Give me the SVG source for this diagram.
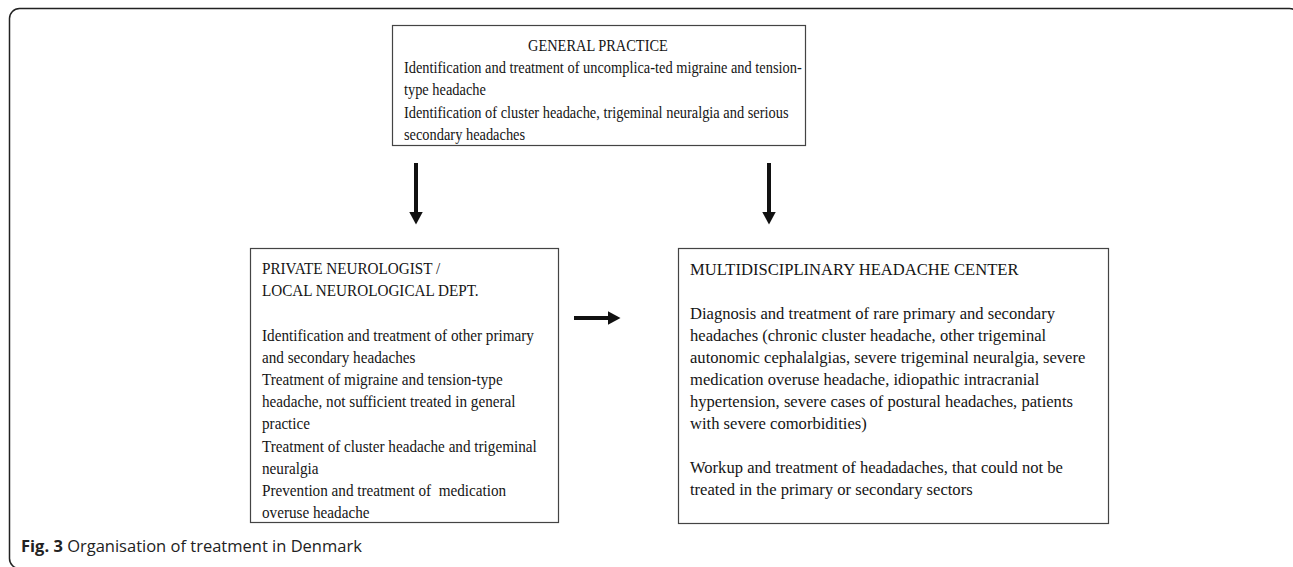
<svg xmlns="http://www.w3.org/2000/svg" width="1293" height="567" viewBox="0 0 1293 567">
<style>
.box{fill:#fff;stroke:#444;stroke-width:1.2}
.t{font-family:"Liberation Serif","Times New Roman",serif;font-size:17px;fill:#151515}
.cap{font-family:"Open Sans","Liberation Sans",sans-serif;font-size:16.5px;fill:#222}
.conn{stroke:#111;stroke-width:4;fill:none}
</style>
<defs>
<marker id="ah" markerUnits="userSpaceOnUse" markerWidth="14" markerHeight="14" refX="0.5" refY="7" orient="auto">
<path d="M0,0 L13,7 L0,14 Z" fill="#111"/>
</marker>
</defs>
<rect x="9.5" y="8.5" width="1290" height="560" rx="10" fill="none" stroke="#222" stroke-width="1.5"/>
<g id="general-practice">
<rect class="box" x="392.5" y="25.5" width="413" height="120"/>
<g transform="matrix(0.847 0 0 1 61.8 0)">
<text class="t" x="633" y="51" text-anchor="middle">GENERAL PRACTICE</text>
<text class="t" x="404" y="73">Identification and treatment of uncomplica-ted migraine and tension-</text>
<text class="t" x="404" y="95.3">type headache</text>
<text class="t" x="404" y="117.6">Identification of cluster headache, trigeminal neuralgia and serious</text>
<text class="t" x="404" y="139.9">secondary headaches</text>
</g>
</g>
<g id="private-neurologist">
<rect class="box" x="250.5" y="248.5" width="308" height="274"/>
<g transform="matrix(0.894 0 0 1 27.77 0)">
<text class="t" x="262" y="274">PRIVATE NEUROLOGIST /</text>
<text class="t" x="262" y="296.2">LOCAL NEUROLOGICAL DEPT.</text>
<text class="t" x="262" y="340.6">Identification and treatment of other primary</text>
<text class="t" x="262" y="362.8">and secondary headaches</text>
<text class="t" x="262" y="385">Treatment of migraine and tension-type</text>
<text class="t" x="262" y="407.2">headache, not sufficient treated in general</text>
<text class="t" x="262" y="429.4">practice</text>
<text class="t" x="262" y="451.6">Treatment of cluster headache and trigeminal</text>
<text class="t" x="262" y="473.8">neuralgia</text>
<text class="t" x="262" y="496" xml:space="preserve">Prevention and treatment of  medication</text>
<text class="t" x="262" y="518.2">overuse headache</text>
</g>
</g>
<g id="headache-center">
<rect class="box" x="678.5" y="248.5" width="430" height="275"/>
<g transform="matrix(0.976 0 0 1 16.56 0)">
<text class="t" x="690" y="275">MULTIDISCIPLINARY HEADACHE CENTER</text>
<text class="t" x="690" y="319">Diagnosis and treatment of rare primary and secondary</text>
<text class="t" x="690" y="341">headaches (chronic cluster headache, other trigeminal</text>
<text class="t" x="690" y="363">autonomic cephalalgias, severe trigeminal neuralgia, severe</text>
<text class="t" x="690" y="385">medication overuse headache, idiopathic intracranial</text>
<text class="t" x="690" y="407">hypertension, severe cases of postural headaches, patients</text>
<text class="t" x="690" y="429">with severe comorbidities)</text>
<text class="t" x="690" y="473">Workup and treatment of headadaches, that could not be</text>
<text class="t" x="690" y="495">treated in the primary or secondary sectors</text>
</g>
</g>
<g id="connectors">
<line class="conn" x1="416" y1="163" x2="416" y2="212" marker-end="url(#ah)"/>
<line class="conn" x1="769" y1="163" x2="769" y2="212" marker-end="url(#ah)"/>
<line class="conn" x1="574" y1="318" x2="608" y2="318" marker-end="url(#ah)"/>
</g>
<g id="caption">
<text class="cap" x="21" y="552"><tspan font-weight="bold">Fig. 3</tspan> Organisation of treatment in Denmark</text>
</g>
</svg>
